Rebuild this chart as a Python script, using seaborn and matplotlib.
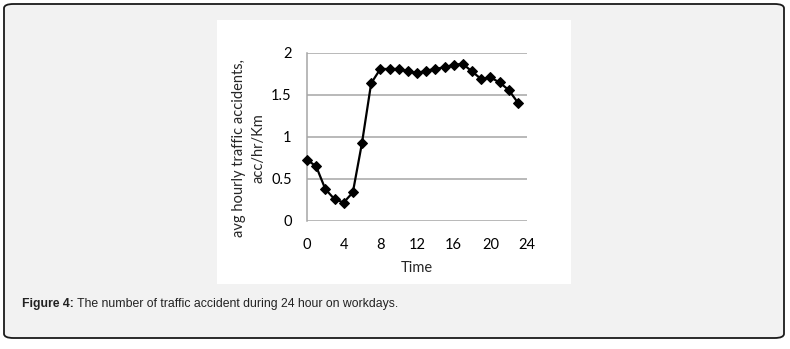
import matplotlib
matplotlib.use("Agg")
import matplotlib.pyplot as plt
from matplotlib.patches import FancyBboxPatch, Rectangle
import seaborn as sns
import pandas as pd

hours = list(range(24))
accidents = [0.73, 0.65, 0.38, 0.26, 0.22, 0.34, 0.93, 1.64, 1.81, 1.81,
             1.81, 1.78, 1.76, 1.79, 1.81, 1.83, 1.86, 1.87, 1.78, 1.69,
             1.71, 1.65, 1.56, 1.41]
x_ticks = [0, 4, 8, 12, 16, 20, 24]
y_ticks = [0, 0.5, 1, 1.5, 2]
y_tick_labels = ["0", "0.5", "1", "1.5", "2"]
x_label = "Time"
y_label = "avg hourly traffic accidents,\nacc/hr/Km"
caption_bold = "Figure 4:"
caption_text = " The number of traffic accident during 24 hour on workdays."

df = pd.DataFrame({"hour": hours, "value": accidents})

sns.set_style("white")
plt.rcParams['font.family'] = ['Lato', 'DejaVu Sans']

W, H = 790, 349
fig = plt.figure(figsize=(W / 100, H / 100), dpi=100)
fig.patch.set_facecolor("white")

def fx(px):
    return px / W

def fy(py):
    return 1 - py / H

# outer rounded frame
frame = FancyBboxPatch((fx(4), fy(338)), fx(784) - fx(4), fy(4) - fy(338),
                       boxstyle="round,pad=0,rounding_size=0.012",
                       transform=fig.transFigure, facecolor="#f2f2f2",
                       edgecolor="#1a1a1a", linewidth=1.3, zorder=-2)
fig.patches.append(frame)
# white image panel
panel = Rectangle((fx(217), fy(284)), fx(571) - fx(217), fy(20) - fy(284),
                  transform=fig.transFigure, facecolor="white",
                  edgecolor="none", zorder=-1)
fig.patches.append(panel)

ax = fig.add_axes([fx(307), fy(221), fx(527) - fx(307), fy(53) - fy(221)])
ax.set_facecolor("none")
sns.lineplot(data=df, x="hour", y="value", ax=ax, color="black",
             marker="D", markersize=5, linewidth=1.6, markeredgecolor="black",
             clip_on=False, zorder=5)
ax.set_xlim(0, 24)
ax.set_ylim(0, 2)
ax.set_xticks(x_ticks)
ax.set_yticks(y_ticks)
ax.set_yticklabels(y_tick_labels)
ax.yaxis.grid(True, color="#a6a6a6", linewidth=1.1)
ax.xaxis.grid(False)
for s in ["top", "right", "bottom"]:
    ax.spines[s].set_visible(False)
ax.spines["left"].set_color("#a6a6a6")
ax.spines["left"].set_linewidth(1.1)
ax.tick_params(axis="both", length=0, labelsize=10.5, colors="black")
ax.tick_params(axis="y", pad=11)
ax.tick_params(axis="x", pad=12)
ax.set_xlabel(x_label, fontsize=10.5)
ax.set_ylabel(y_label, fontsize=10.5, linespacing=1.45)
ax.yaxis.set_label_coords((265 - 307) / 220, (221 - 148) / 168)
ax.xaxis.set_label_coords(0.5, (221 - 261) / 168)

t1 = fig.text(fx(22), fy(304), caption_bold, fontsize=8.8, fontweight="bold",
              family=["Liberation Sans"], va="center", ha="left", color="#222222")
fig.canvas.draw()
bb = t1.get_window_extent()
fig.text(bb.x1 / W, fy(304), caption_text, fontsize=8.8,
         family=["Liberation Sans"], va="center", ha="left", color="#222222")

fig.savefig("out.png", dpi=100, facecolor="white")
